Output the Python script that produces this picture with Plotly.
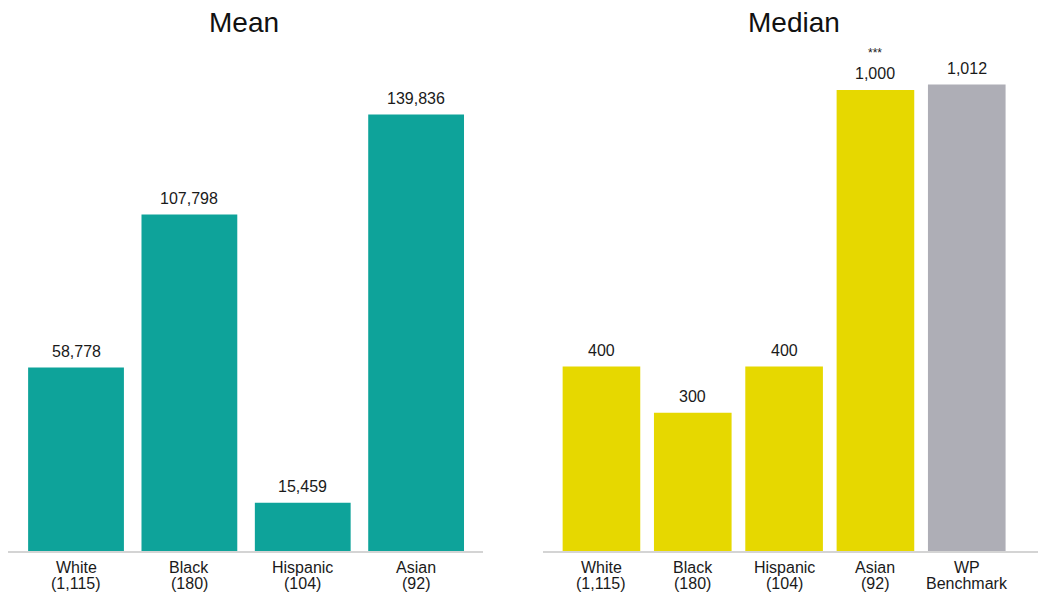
import plotly.graph_objects as go

# Mean and median values by group
mean_names = ["White", "Black", "Hispanic", "Asian"]
mean_counts = ["(1,115)", "(180)", "(104)", "(92)"]
mean_values = [58778, 107798, 15459, 139836]

median_names = ["White", "Black", "Hispanic", "Asian", "WP"]
median_counts = ["(1,115)", "(180)", "(104)", "(92)", "Benchmark"]
median_values = [400, 300, 400, 1000, 1012]
median_flags = ["", "", "", "***", ""]

W, H = 1039, 595
TEAL = "#0ea39a"
YELLOW = "#e6d800"
GREY = "#aeaeb6"
TEXT = "#1a1a1a"
FONT = "Liberation Sans"


def py(px):
    """Convert a pixel row (from the top) into paper coordinates."""
    return (H - px) / H


fig = go.Figure()

fig.add_trace(go.Bar(
    x=list(range(len(mean_names))), y=mean_values,
    marker=dict(color=TEAL, line=dict(width=0)),
    width=0.845, cliponaxis=False, xaxis="x", yaxis="y", showlegend=False,
    hoverinfo="skip",
))

median_colors = [YELLOW] * 4 + [GREY]
fig.add_trace(go.Bar(
    x=list(range(len(median_names))), y=median_values,
    marker=dict(color=median_colors, line=dict(width=0)),
    width=0.85, cliponaxis=False, xaxis="x2", yaxis="y2", showlegend=False,
    hoverinfo="skip",
))

annotations = []

# value labels above each bar
for xa, ya, vals in (("x", "y", mean_values), ("x2", "y2", median_values)):
    for i, v in enumerate(vals):
        annotations.append(dict(
            x=i, y=v, xref=xa, yref=ya, text=f"{v:,}", showarrow=False,
            xanchor="center", yanchor="middle", yshift=16,
            font=dict(size=16, color=TEXT, family=FONT),
        ))

# significance markers above the median labels
for i, (v, flag) in enumerate(zip(median_values, median_flags)):
    if flag:
        annotations.append(dict(
            x=i, y=v, xref="x2", yref="y2", text=flag, showarrow=False,
            xanchor="center", yanchor="middle", yshift=37,
            font=dict(size=12, color=TEXT, family=FONT),
        ))

# two-line category labels under each axis
for xa, names, counts in (("x", mean_names, mean_counts), ("x2", median_names, median_counts)):
    for i, (name, count) in enumerate(zip(names, counts)):
        for txt, row in ((name, 567), (count, 583)):
            annotations.append(dict(
                x=i, y=py(row), xref=xa, yref="paper", text=txt, showarrow=False,
                xanchor="center", yanchor="middle",
                font=dict(size=16, color=TEXT, family=FONT),
            ))

# panel titles
for title, cx in (("Mean", 244), ("Median", 794)):
    annotations.append(dict(
        text=title, x=cx / W, y=py(23), xref="paper", yref="paper",
        xanchor="center", yanchor="middle", showarrow=False,
        font=dict(size=28, color="#111", family=FONT),
    ))

y_lo = py(551)
y_hi = py(45)

axis_common = dict(
    showgrid=False, zeroline=False, showline=True, linecolor="#d4d4d4", linewidth=1.5,
    ticks="", showticklabels=False, fixedrange=True,
)

fig.update_layout(
    width=W, height=H,
    margin=dict(l=0, r=0, t=0, b=0),
    paper_bgcolor="white", plot_bgcolor="white",
    font=dict(family=FONT, color=TEXT),
    xaxis=dict(domain=[8 / W, 483 / W], range=[-0.6, 3.59], anchor="y", **axis_common),
    yaxis=dict(domain=[y_lo, y_hi], range=[0, 162080], visible=False, anchor="x"),
    xaxis2=dict(domain=[543 / W, 1038 / W], range=[-0.64, 4.78], anchor="y2", **axis_common),
    yaxis2=dict(domain=[y_lo, y_hi], range=[0, 1097.6], visible=False, anchor="x2"),
    annotations=annotations,
)

fig.write_html("out.html")
